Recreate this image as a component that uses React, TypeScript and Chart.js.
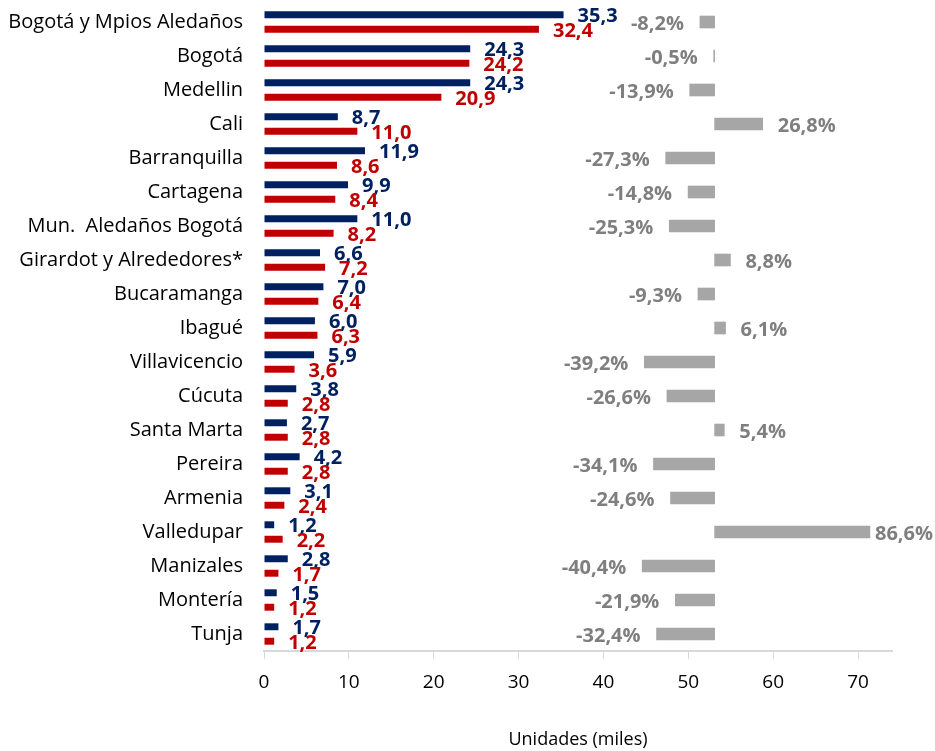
import React, { useEffect, useRef } from "react";
import { Chart, registerables } from "chart.js";

Chart.register(...registerables);

const categories = [
  "Bogotá y Mpios Aledaños",
  "Bogotá",
  "Medellin",
  "Cali",
  "Barranquilla",
  "Cartagena",
  "Mun.  Aledaños Bogotá",
  "Girardot y Alrededores*",
  "Bucaramanga",
  "Ibagué",
  "Villavicencio",
  "Cúcuta",
  "Santa Marta",
  "Pereira",
  "Armenia",
  "Valledupar",
  "Manizales",
  "Montería",
  "Tunja",
];

const seriesBlue = [35.3, 24.3, 24.3, 8.7, 11.9, 9.9, 11.0, 6.6, 7.0, 6.0, 5.9, 3.8, 2.7, 4.2, 3.1, 1.2, 2.8, 1.5, 1.7];
const seriesRed = [32.4, 24.2, 20.9, 11.0, 8.6, 8.4, 8.2, 7.2, 6.4, 6.3, 3.6, 2.8, 2.8, 2.8, 2.4, 2.2, 1.7, 1.2, 1.2];
const changePct = [-8.2, -0.5, -13.9, 26.8, -27.3, -14.8, -25.3, 8.8, -9.3, 6.1, -39.2, -26.6, 5.4, -34.1, -24.6, 86.6, -40.4, -21.9, -32.4];

const xTicks = [0, 10, 20, 30, 40, 50, 60, 70];
const X_MAX = 74;
const PCT_BASE = 53.1; // primary-axis value where 0% sits
const PCT_UNIT = 0.2113; // primary units per 1%

const BLUE = "#002060";
const RED = "#C00000";
const GRAY_BAR = "#A6A6A6";
const GRAY_TEXT = "#7F7F7F";
const FONT = "'Open Sans', 'Noto Sans', sans-serif";

const fmt = (v: number, d = 1) => v.toFixed(d).replace(".", ",");

const labelPlugin = {
  id: "barLabels",
  afterDatasetsDraw(chart: any) {
    const ctx = chart.ctx;
    ctx.save();
    ctx.textBaseline = "middle";
    const colors = [BLUE, RED];
    [0, 1].forEach((di) => {
      const meta = chart.getDatasetMeta(di);
      const data = chart.data.datasets[di].data as number[];
      ctx.fillStyle = colors[di];
      ctx.font = `bold 20px ${FONT}`;
      ctx.textAlign = "left";
      meta.data.forEach((el: any, i: number) => {
        ctx.fillText(fmt(data[i]), el.x + 14, el.y + 2);
      });
    });
    const gmeta = chart.getDatasetMeta(2);
    const gdata = chart.data.datasets[2].data as number[];
    ctx.fillStyle = GRAY_TEXT;
    ctx.font = `bold 20px ${FONT}`;
    gmeta.data.forEach((el: any, i: number) => {
      const v = gdata[i];
      const txt = fmt(v) + "%";
      if (v < 0) {
        ctx.textAlign = "right";
        ctx.fillText(txt, Math.min(el.x, el.base) - 16, el.y + 2);
      } else {
        ctx.textAlign = "left";
        const w = ctx.measureText(txt).width;
        let x = Math.max(el.x, el.base) + 15;
        if (x + w > chart.width - 2) x = chart.width - 2 - w;
        ctx.fillText(txt, x, el.y + 2);
      }
    });
    ctx.restore();
  },
};

export default function App() {
  const ref = useRef<HTMLCanvasElement>(null);
  useEffect(() => {
    if (!ref.current) return;
    Chart.defaults.font.family = FONT;
    const chart = new Chart(ref.current, {
      type: "bar",
      data: {
        labels: categories,
        datasets: [
          {
            label: "Serie 1",
            data: seriesBlue,
            backgroundColor: BLUE,
            xAxisID: "x",
            barPercentage: 0.48,
            categoryPercentage: 0.85,
          },
          {
            label: "Serie 2",
            data: seriesRed,
            backgroundColor: RED,
            xAxisID: "x",
            barPercentage: 0.48,
            categoryPercentage: 0.85,
          },
          {
            label: "Variación",
            data: changePct,
            backgroundColor: GRAY_BAR,
            xAxisID: "x2",
            grouped: false,
            barThickness: 12,
          } as any,
        ],
      },
      options: {
        indexAxis: "y",
        animation: false,
        responsive: false,
        maintainAspectRatio: false,
        layout: { padding: { top: 5, right: 43, bottom: 0, left: 0 } },
        plugins: { legend: { display: false }, tooltip: { enabled: false } },
        scales: {
          x: {
            type: "linear",
            position: "bottom",
            min: 0,
            max: X_MAX,
            afterFit: (s: any) => {
              s.height = 100;
            },
            afterBuildTicks: (s: any) => {
              s.ticks = xTicks.map((v) => ({ value: v }));
            },
            ticks: {
              color: "#000",
              font: { size: 19 },
              padding: 12,
              includeBounds: false,
            },
            grid: {
              display: true,
              drawOnChartArea: false,
              drawTicks: true,
              tickLength: 8,
              color: "#D9D9D9",
            },
            border: { display: true, color: "#D9D9D9", width: 2 },
            title: {
              display: true,
              text: "Unidades (miles)",
              color: "#000",
              font: { size: 18 },
              padding: { top: 0, bottom: 0 },
            },
          },
          x2: {
            type: "linear",
            display: false,
            min: -PCT_BASE / PCT_UNIT,
            max: (X_MAX - PCT_BASE) / PCT_UNIT,
          },
          y: {
            type: "category",
            afterFit: (s: any) => {
              s.width = 264;
            },
            ticks: { color: "#000", font: { size: 20, lineHeight: 0.4 }, padding: 0 },
            grid: { display: false, drawTicks: true, tickLength: 21 },
            border: { display: false },
          },
        },
      },
      plugins: [labelPlugin],
    });
    return () => chart.destroy();
  }, []);
  return (
    <div style={{ position: "absolute", left: 0, top: 0, width: 935, height: 751, background: "#fff" }}>
      <canvas ref={ref} width={935} height={751} style={{ display: "block", width: 935, height: 751 }} />
    </div>
  );
}
